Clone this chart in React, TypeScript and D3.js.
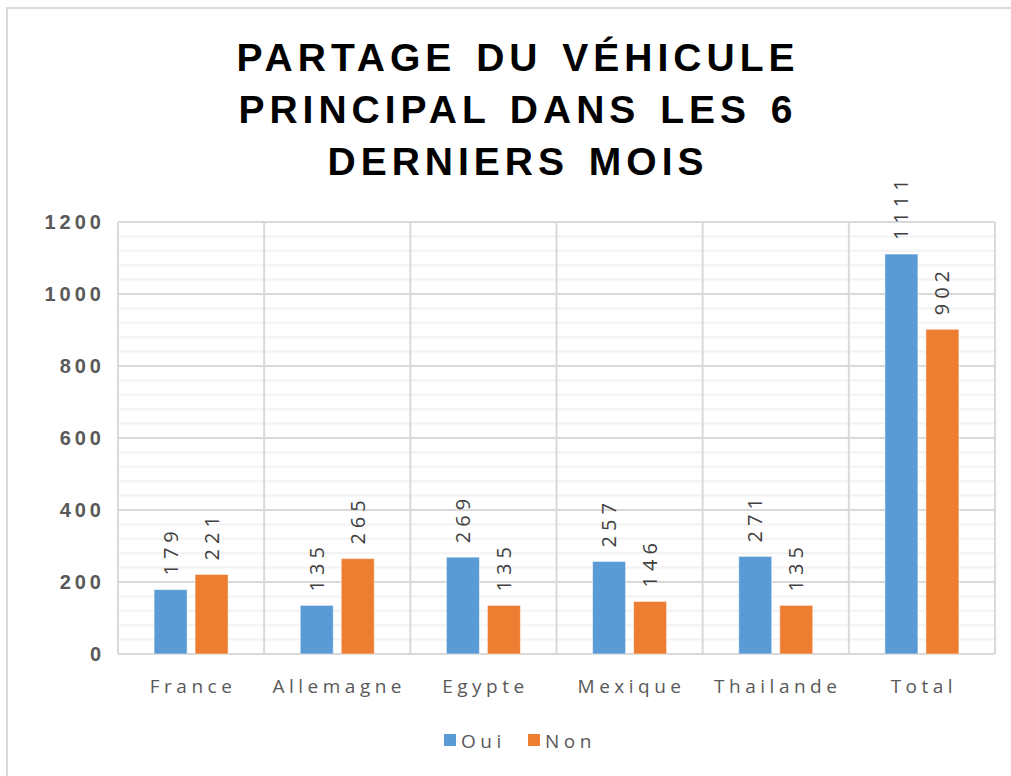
import { useRef, useEffect } from "react";
import * as d3 from "d3";

const categories = ["France", "Allemagne", "Egypte", "Mexique", "Thailande", "Total"];
const oui = [179, 135, 269, 257, 271, 1111];
const non = [221, 265, 135, 146, 135, 902];
const seriesNames = ["Oui", "Non"];
const seriesColors = ["#5B9BD5", "#ED7D31"];
const yTicks = [0, 200, 400, 600, 800, 1000, 1200];
const titleLines = ["PARTAGE DU VÉHICULE", "PRINCIPAL DANS LES 6", "DERNIERS MOIS"];

const W = 1011;
const H = 776;

export default function App() {
  const svgRef = useRef<SVGSVGElement>(null);

  useEffect(() => {
    const svg = d3.select(svgRef.current);
    svg.selectAll("*").remove();

    const left = 118, right = 995, top = 222, bottom = 654;

    // chart frame
    svg.append("rect")
      .attr("x", 7).attr("y", 8).attr("width", W + 20).attr("height", H + 20)
      .attr("fill", "#fff").attr("stroke", "#d9d9d9").attr("stroke-width", 2);

    // title
    svg.append("g").selectAll("text").data(titleLines).join("text")
      .attr("x", 518).attr("y", (d, i) => 71 + i * 52)
      .attr("text-anchor", "middle")
      .style("font-family", "'Liberation Sans', Arial, sans-serif")
      .style("font-weight", "bold").style("font-size", "39px")
      .style("letter-spacing", "5px").style("word-spacing", "4px").attr("fill", "#000")
      .text((d) => d);

    const x = d3.scaleBand().domain(categories).range([left, right]);
    const xInner = d3.scaleBand().domain(seriesNames).range([0, x.bandwidth()])
      .paddingInner(0.195).paddingOuter(0.88);
    const y = d3.scaleLinear().domain([0, 1200]).range([bottom, top]);

    // minor grid
    const minor = d3.range(0, 1201, 40).filter((v) => v % 200 !== 0);
    svg.append("g").selectAll("line").data(minor).join("line")
      .attr("x1", left).attr("x2", right)
      .attr("y1", (d) => y(d)).attr("y2", (d) => y(d))
      .attr("stroke", "#f2f2f2").attr("stroke-width", 2);

    // major grid
    svg.append("g").selectAll("line").data(yTicks).join("line")
      .attr("x1", left).attr("x2", right)
      .attr("y1", (d) => y(d)).attr("y2", (d) => y(d))
      .attr("stroke", "#d9d9d9").attr("stroke-width", 2);

    // vertical grid
    const vx = categories.map((c) => x(c)!).concat([right]);
    svg.append("g").selectAll("line").data(vx).join("line")
      .attr("x1", (d) => d).attr("x2", (d) => d)
      .attr("y1", top).attr("y2", bottom)
      .attr("stroke", "#d9d9d9").attr("stroke-width", 2);

    // y tick labels
    svg.append("g").selectAll("text").data(yTicks).join("text")
      .attr("x", 105).attr("y", (d) => y(d) + 7)
      .attr("text-anchor", "end")
      .style("font-family", "'Liberation Sans', Arial, sans-serif")
      .style("font-weight", "bold").style("font-size", "20px")
      .style("letter-spacing", "4px").attr("fill", "#595959")
      .text((d) => d);

    // category labels
    svg.append("g").selectAll("text").data(categories).join("text")
      .attr("x", (d) => x(d)! + x.bandwidth() / 2 + 2).attr("y", 693)
      .attr("text-anchor", "middle")
      .style("font-family", "'Open Sans', sans-serif")
      .style("font-size", "19px").style("letter-spacing", "4.5px")
      .attr("fill", "#595959")
      .text((d) => d);

    const rows = categories.map((c, i) => ({ c, vals: [oui[i], non[i]] }));
    const groups = svg.append("g").selectAll("g").data(rows).join("g")
      .attr("transform", (d) => `translate(${x(d.c)},0)`);

    groups.selectAll("rect")
      .data((d) => d.vals.map((v, j) => ({ v, s: seriesNames[j], j })))
      .join("rect")
      .attr("x", (d) => xInner(d.s)!)
      .attr("y", (d) => y(d.v))
      .attr("width", xInner.bandwidth())
      .attr("height", (d) => bottom - y(d.v))
      .attr("fill", (d) => seriesColors[d.j])
      .attr("stroke", "#fff").attr("stroke-opacity", 0.5).attr("stroke-width", 1);

    groups.selectAll("text")
      .data((d) => d.vals.map((v, j) => ({ v, s: seriesNames[j] })))
      .join("text")
      .attr("transform", (d) =>
        `translate(${xInner(d.s)! + xInner.bandwidth() / 2 + 7},${y(d.v) - 14}) rotate(-90)`)
      .attr("text-anchor", "start")
      .style("font-family", "'Open Sans', sans-serif")
      .style("font-size", "20px").style("letter-spacing", "5px")
      .attr("fill", "#404040")
      .text((d) => d.v);

    // legend
    const legend = svg.append("g");
    const lx = [444, 528];
    seriesNames.forEach((s, i) => {
      legend.append("rect").attr("x", lx[i]).attr("y", 734)
        .attr("width", 12).attr("height", 12).attr("fill", seriesColors[i]);
      legend.append("text").attr("x", lx[i] + 17).attr("y", 748)
        .style("font-family", "'Open Sans', sans-serif")
        .style("font-size", "19px").style("letter-spacing", "4.5px")
        .attr("fill", "#595959").text(s);
    });
  }, []);

  return (
    <svg ref={svgRef} width={W} height={H}
      style={{ position: "absolute", left: 0, top: 0, background: "#fff" }} />
  );
}
